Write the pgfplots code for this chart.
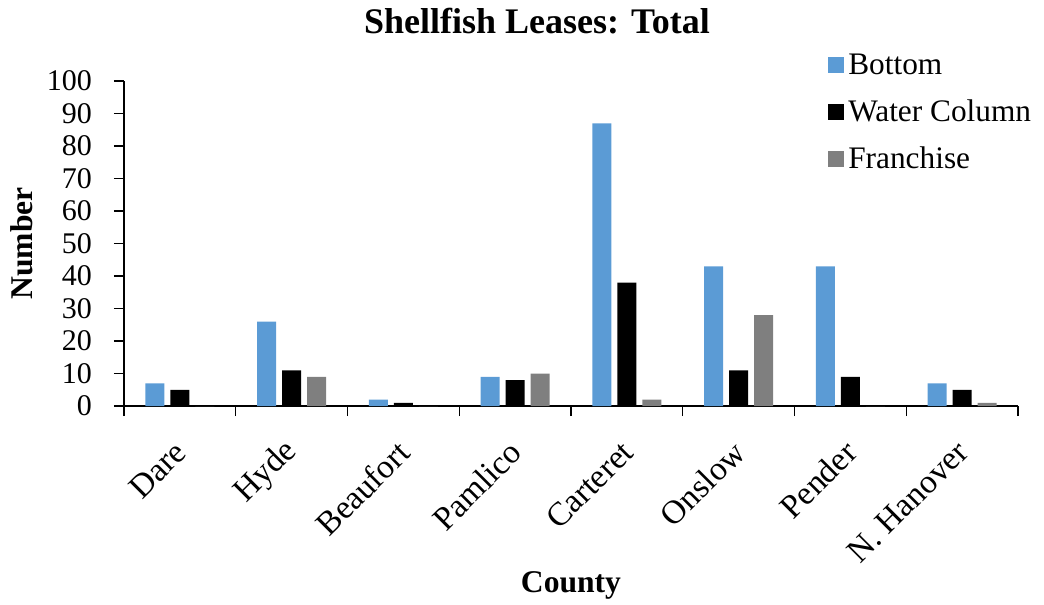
\documentclass[border=0pt]{standalone}
\usepackage{fontspec}
\setmainfont{Liberation Serif}
\usepackage{pgfplots}
\pgfplotsset{compat=1.18}
\usetikzlibrary{calc}

\definecolor{cBottom}{HTML}{5B9BD5}
\definecolor{cFran}{HTML}{7F7F7F}

\pgfplotsset{
  sqleg/.style={legend image code/.code={\fill[##1] (-4pt,-6pt) rectangle (8pt,6pt);}},
}

\begin{document}
\begin{tikzpicture}
  \begin{axis}[
      name=ax,
      scale only axis,
      width=670.5pt,
      height=243.75pt,
      ybar,
      bar width=14.25pt,
      xmin=-0.5, xmax=7.5,
      ymin=0, ymax=100,
      ytick={0,10,...,100},
      xtick={-0.5,0.5,...,7.5},
      xticklabels={},
      extra x ticks={0,1,2,3,4,5,6,7},
      extra x tick labels={Dare,Hyde,Beaufort,Pamlico,Carteret,Onslow,Pender,N. Hanover},
      extra x tick style={major tick length=0pt,
        xticklabel style={rotate=45, anchor=east, font=\fontsize{25}{29}\selectfont, xshift=-18pt, yshift=-22pt}},
      axis x line*=bottom,
      axis y line*=left,
      axis line style={line width=1pt},
      tick style={line width=1pt, black},
      tick align=outside,
      major tick length=7.5pt,
      /pgf/number format/assume math mode=true,
      ticklabel style={font=\fontsize{22.5}{26}\selectfont},
      yticklabel style={xshift=-13pt},
      title={\textbf{Shellfish Leases: Total}},
      title style={font=\fontsize{27}{31}\selectfont, at={(axis description cs:0.462,1.123)}, anchor=base},
      xlabel={\textbf{County}},
      xlabel style={font=\fontsize{23.7}{28}\selectfont, at={(axis description cs:0.5,-0.575)}, anchor=base},
      ylabel={\textbf{Number}},
      ylabel style={font=\fontsize{23.7}{28}\selectfont, at={(axis description cs:-0.114,0.5)}, anchor=center},
      legend style={draw=none, fill=none, at={(axis description cs:0.783,1.10)}, anchor=north west,
        font=\fontsize{23.5}{28}\selectfont, row sep=13.5pt,
        nodes={inner xsep=3pt}},
      legend cell align=left,
    ]
    \addplot [fill=cBottom, draw=none, bar shift=-18.75pt, sqleg] coordinates
      {(0,7) (1,26) (2,2) (3,9) (4,87) (5,43) (6,43) (7,7)};
    \addplot [fill=black, draw=none, bar shift=0pt, sqleg] coordinates
      {(0,5) (1,11) (2,1) (3,8) (4,38) (5,11) (6,9) (7,5)};
    \addplot [fill=cFran, draw=none, bar shift=18.75pt, sqleg] coordinates
      {(0,0) (1,9) (2,0) (3,10) (4,2) (5,28) (6,0) (7,1)};
    \legend{Bottom,Water Column,Franchise}
  \end{axis}
  \pgfresetboundingbox
  \path[use as bounding box] ($(ax.south west)+(-93pt,-148.5pt)$) rectangle ($(ax.south west)+(690pt,304.5pt)$);
\end{tikzpicture}
\end{document}
